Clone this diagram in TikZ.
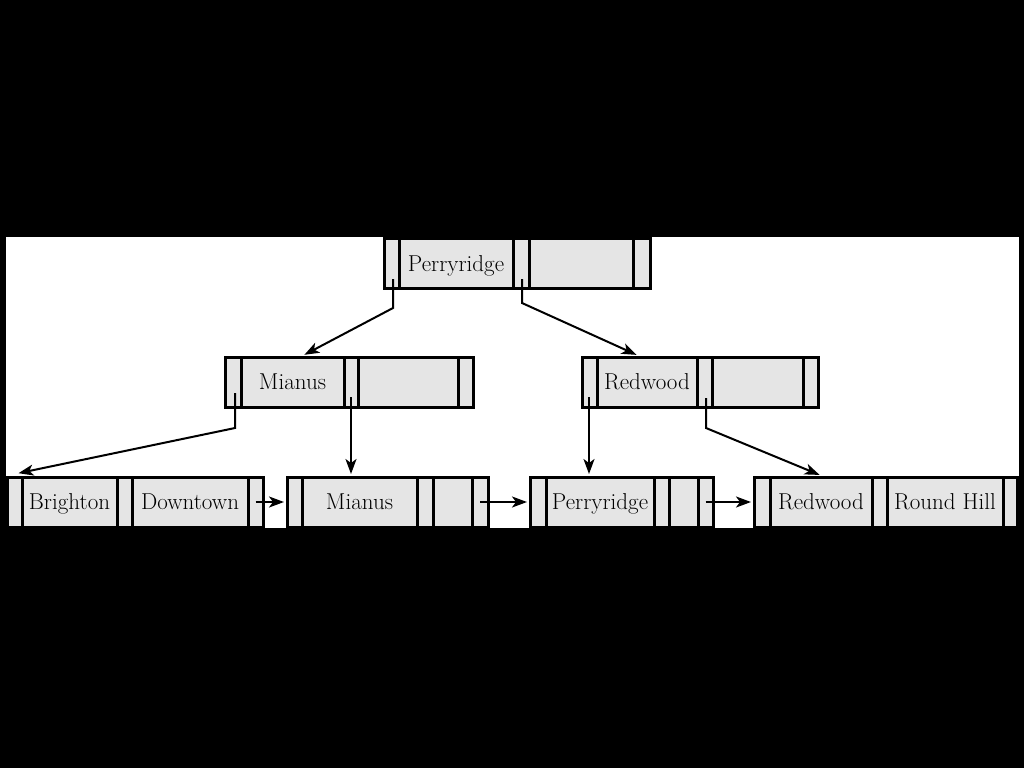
\documentclass[tikz,border=0pt]{standalone}
\usetikzlibrary{arrows.meta,calc}

\tikzset{
  slot/.style={draw, fill=black!10, line width=3pt, minimum height=50pt,
    inner sep=0pt, text height=16pt, text depth=1pt,
    font=\fontsize{23}{27}\selectfont},
  link/.style={line width=2pt, shorten >=1.5pt,
    -{Stealth[length=15pt,width=11pt,inset=4pt]}},
}

\begin{document}
\begin{tikzpicture}[x=1pt,y=-1pt]
\fill[black] (0,0) rectangle (1024,768);
\fill[white] (6,237) rectangle (1019,528);

% root
\node[slot, minimum width=15pt]  (r-p0) at (391.5,263.5) {};
\node[slot, minimum width=114pt] (r-k1) at (456,263.5) {Perryridge};
\node[slot, minimum width=16pt]  (r-p1) at (521,263.5) {};
\node[slot, minimum width=104pt] (r-k2) at (581,263.5) {};
\node[slot, minimum width=17pt]  (r-p2) at (641.5,263.5) {};

% inner nodes
\node[slot, minimum width=16pt]  (m-p0) at (233,382) {};
\node[slot, minimum width=103pt] (m-k1) at (292.5,382) {Mianus};
\node[slot, minimum width=14pt]  (m-p1) at (351,382) {};
\node[slot, minimum width=100pt] (m-k2) at (408,382) {};
\node[slot, minimum width=15pt]  (m-p2) at (465.5,382) {};

\node[slot, minimum width=15pt]  (w-p0) at (589.5,382) {};
\node[slot, minimum width=100pt] (w-k1) at (647,382) {Redwood};
\node[slot, minimum width=15pt]  (w-p1) at (704.5,382) {};
\node[slot, minimum width=91pt]  (w-k2) at (757.5,382) {};
\node[slot, minimum width=15pt]  (w-p2) at (810.5,382) {};

% leaves
\node[slot, minimum width=15pt]  (l1-p0) at (14.5,502) {};
\node[slot, minimum width=95pt]  (l1-k1) at (69.5,502) {Brighton};
\node[slot, minimum width=15pt]  (l1-p1) at (124.5,502) {};
\node[slot, minimum width=116pt] (l1-k2) at (190,502) {Downtown};
\node[slot, minimum width=15pt]  (l1-p2) at (255.5,502) {};

\node[slot, minimum width=15pt]  (l2-p0) at (294.5,502) {};
\node[slot, minimum width=115pt] (l2-k1) at (359.5,502) {Mianus};
\node[slot, minimum width=16pt]  (l2-p1) at (425,502) {};
\node[slot, minimum width=39pt]  (l2-k2) at (452.5,502) {};
\node[slot, minimum width=16pt]  (l2-p2) at (480,502) {};

\node[slot, minimum width=16pt]  (l3-p0) at (538,502) {};
\node[slot, minimum width=108pt] (l3-k1) at (600,502) {Perryridge};
\node[slot, minimum width=15pt]  (l3-p1) at (661.5,502) {};
\node[slot, minimum width=29pt]  (l3-k2) at (683.5,502) {};
\node[slot, minimum width=15pt]  (l3-p2) at (705.5,502) {};

\node[slot, minimum width=16pt]  (l4-p0) at (762,502) {};
\node[slot, minimum width=102pt] (l4-k1) at (821,502) {Redwood};
\node[slot, minimum width=15pt]  (l4-p1) at (879.5,502) {};
\node[slot, minimum width=116pt] (l4-k2) at (945,502) {Round Hill};
\node[slot, minimum width=14pt]  (l4-p2) at (1010,502) {};

% pointers
\coordinate (r0) at (393,279);
\coordinate (r1) at (522,279);
\coordinate (m0) at (235,393);
\coordinate (m1) at (351,397);
\coordinate (w0) at (589,397);
\coordinate (w1) at (706,398);

\draw[link] (r0) -- ++(0,29) -- ($(m-k1.north)+(10.5,0)$);
\draw[link] (r1) -- ++(0,24) -- ($(w-k1.north)+(-9,0)$);
\draw[link] (m0) -- ++(0,35) -- ($(l1-p0.north)+(2.5,-2)$);
\draw[link] (m1) -- (m1 |- l2-k1.north);
\draw[link] (w0) -- (w0 |- l3-k1.north);
\draw[link] (w1) -- ++(0,30) -- (l4-k1.north);

\draw[link] (l1-p2.center) -- (l2-p0.west);
\draw[link] (l2-p2.center) -- (l3-p0.west);
\draw[link] (l3-p2.center) -- (l4-p0.west);
\end{tikzpicture}
\end{document}
